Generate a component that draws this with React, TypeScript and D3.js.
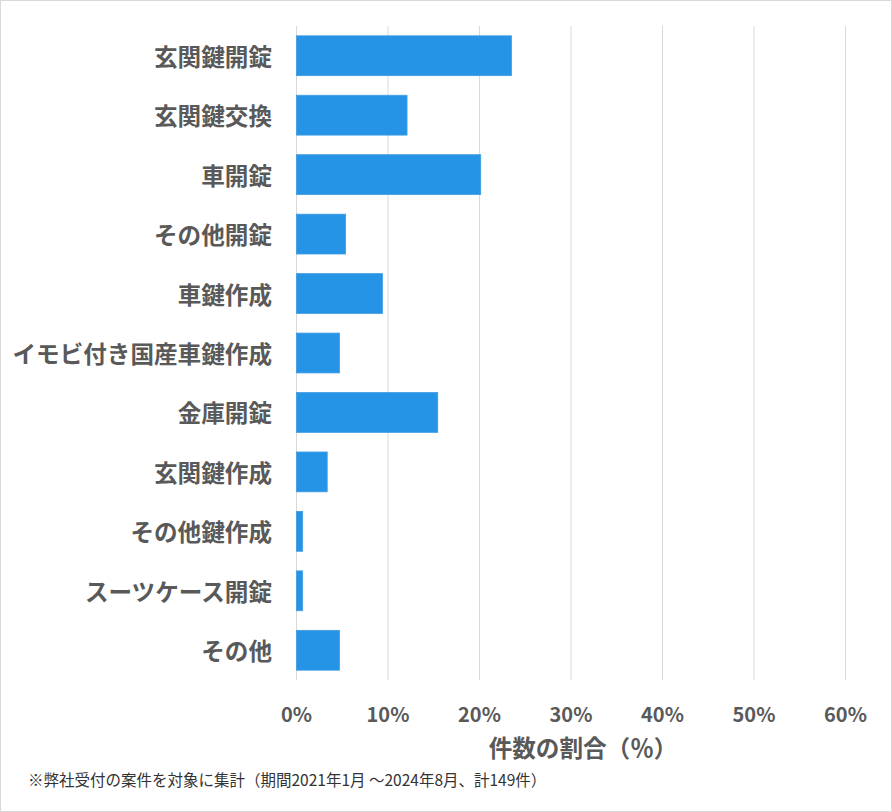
import React from "react";
import * as d3 from "d3";

const categories = [
  "玄関鍵開錠",
  "玄関鍵交換",
  "車開錠",
  "その他開錠",
  "車鍵作成",
  "イモビ付き国産車鍵作成",
  "金庫開錠",
  "玄関鍵作成",
  "その他鍵作成",
  "スーツケース開錠",
  "その他",
];
const counts = [35, 18, 30, 8, 14, 7, 23, 5, 1, 1, 7];
const total = 149;
const tickValues = [0, 0.1, 0.2, 0.3, 0.4, 0.5, 0.6];
const axisTitle = "件数の割合（％）";
const footnote = "※弊社受付の案件を対象に集計（期間2021年1月 ～2024年8月、計149件）";

const W = 892;
const H = 812;
const FONT = "'Noto Sans CJK JP', 'Noto Sans', sans-serif";
const TEXT = "#595959";

export default function App() {
  const x = d3.scaleLinear().domain([0, 0.6]).range([296.5, 845.5]);
  const y = d3.scaleBand().domain(categories).range([26, 680]).paddingInner(0.33).paddingOuter(0.165);

  return (
    <svg width={W} height={H} style={{ position: "absolute", left: 0, top: 0 }}>
      <rect x={0.5} y={0.5} width={W - 1} height={H - 1} fill="#fff" stroke="#d9d9d9" />
      {tickValues.map((t) => (
        <line key={t} x1={x(t)} x2={x(t)} y1={26} y2={680} stroke="#d9d9d9" strokeWidth={1} />
      ))}
      {categories.map((c, i) => (
        <rect
          key={c}
          x={x(0)}
          y={y(c)}
          width={x(counts[i] / total) - x(0)}
          height={y.bandwidth()}
          fill="#2694E6"
          stroke="#3f9ce0"
          strokeWidth={0.8}
        />
      ))}
      {categories.map((c) => (
        <text
          key={c}
          x={272}
          y={(y(c) as number) + y.bandwidth() / 2}
          textAnchor="end"
          dominantBaseline="central"
          fontFamily={FONT}
          fontWeight="bold"
          fontSize={23.6}
          fill={TEXT}
        >
          {c}
        </text>
      ))}
      {tickValues.map((t) => (
        <text
          key={t}
          x={x(t)}
          y={713}
          textAnchor="middle"
          dominantBaseline="central"
          fontFamily={FONT}
          fontWeight="bold"
          fontSize={20}
          fill={TEXT}
        >
          {d3.format(".0%")(t)}
        </text>
      ))}
      <text
        x={(x(0) + x(0.6)) / 2 + 12}
        y={747}
        textAnchor="middle"
        dominantBaseline="central"
        fontFamily={FONT}
        fontWeight="bold"
        fontSize={23.6}
        fill={TEXT}
      >
        {axisTitle}
      </text>
      <text
        x={28}
        y={779}
        dominantBaseline="central"
        fontFamily={FONT}
        fontSize={15.5}
        fill="#333"
      >
        {footnote}
      </text>
    </svg>
  );
}
